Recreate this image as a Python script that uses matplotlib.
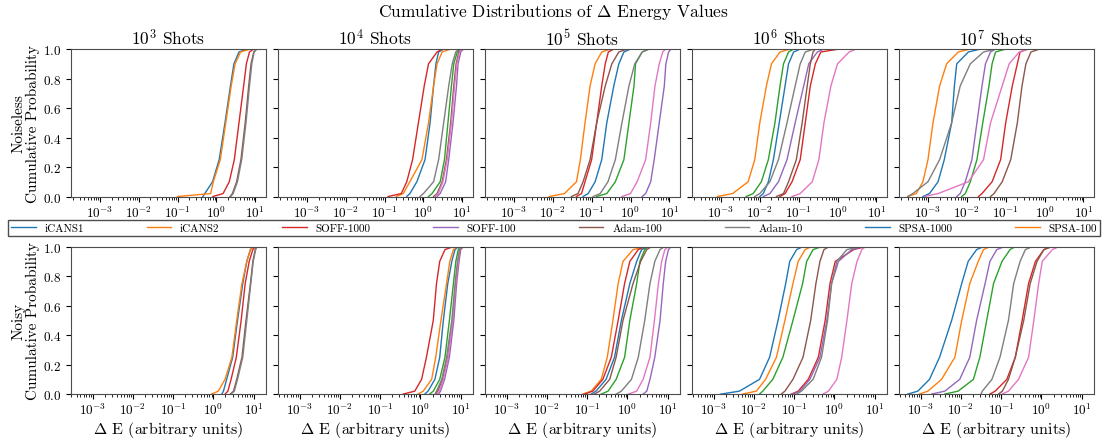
import numpy as np
import matplotlib
matplotlib.use('Agg')
import matplotlib.pyplot as plt
from matplotlib.lines import Line2D
from matplotlib.ticker import LogLocator, NullFormatter

# cumulative probability levels at which the delta-E quantiles were read
P = [0, 0.02, 0.1, 0.25, 0.5, 0.75, 0.9, 0.98, 1.0]

# log10(delta E) quantiles, one dict per panel
noiseless_1e3 = {
    'iCANS1': [-0.35, -0.3, -0.1, 0.07, 0.22, 0.36, 0.45, 0.58, 0.78],
    'iCANS2': [-1.0, -0.15, -0.08, 0.1, 0.24, 0.38, 0.48, 0.62, 0.87],
    'SOFF-1000': [-0.09, 0.17, 0.33, 0.46, 0.58, 0.70, 0.77, 0.85, 0.96],
    'Adam-100': [0.35, 0.41, 0.52, 0.63, 0.74, 0.83, 0.89, 0.96, 1.03],
    'Adam-10': [0.37, 0.43, 0.54, 0.65, 0.76, 0.85, 0.91, 0.97, 1.04],
}
noiseless_1e4 = {
    'iCANS1': [-0.43, -0.35, -0.17, 0.04, 0.17, 0.26, 0.32, 0.39, 0.52],
    'iCANS2': [-0.7, -0.52, -0.35, -0.04, 0.13, 0.26, 0.35, 0.48, 0.70],
    'SPSA-1000': [0.13, 0.22, 0.43, 0.54, 0.63, 0.72, 0.78, 0.87, 0.94],
    'SOFF-1000': [-0.91, -0.57, -0.43, -0.28, -0.13, 0.02, 0.13, 0.35, 0.48],
    'SOFF-100': [0.35, 0.43, 0.57, 0.65, 0.76, 0.85, 0.89, 0.96, 1.03],
    'Adam-100': [0.26, 0.35, 0.48, 0.59, 0.70, 0.78, 0.84, 0.91, 0.97],
    'SPSA-100': [0.30, 0.38, 0.50, 0.61, 0.72, 0.80, 0.86, 0.93, 1.0],
    'Adam-10': [-0.09, 0.0, 0.26, 0.39, 0.52, 0.65, 0.74, 0.83, 0.91],
}
noiseless_1e5 = {
    'iCANS1': [-1.22, -1.09, -0.91, -0.74, -0.61, -0.43, -0.30, -0.17, 0.0],
    'iCANS2': [-2.09, -1.70, -1.39, -1.29, -1.17, -1.04, -0.91, -0.74, -0.52],
    'SPSA-1000': [-0.87, -0.61, -0.39, -0.17, -0.04, 0.09, 0.13, 0.30, 0.48],
    'SOFF-1000': [-1.39, -1.26, -1.17, -1.0, -0.87, -0.74, -0.65, -0.57, -0.43],
    'SOFF-100': [0.30, 0.39, 0.52, 0.61, 0.74, 0.87, 0.91, 0.98, 1.04],
    'Adam-100': [-1.52, -1.35, -1.22, -1.04, -0.87, -0.65, -0.48, -0.30, -0.09],
    'SPSA-100': [-0.22, 0.0, 0.17, 0.39, 0.52, 0.63, 0.74, 0.83, 0.90],
    'Adam-10': [-0.96, -0.78, -0.58, -0.39, -0.22, -0.04, 0.11, 0.30, 0.48],
}
noiseless_1e6 = {
    'iCANS1': [-2.0, -1.91, -1.78, -1.65, -1.50, -1.35, -1.26, -1.13, -0.96],
    'iCANS2': [-3.09, -2.70, -2.30, -2.13, -2.0, -1.83, -1.70, -1.48, -1.22],
    'SPSA-1000': [-2.35, -2.17, -1.96, -1.78, -1.61, -1.48, -1.39, -1.26, -1.13],
    'SOFF-1000': [-1.48, -1.35, -1.17, -0.96, -0.83, -0.70, -0.57, -0.43, 0.04],
    'SOFF-100': [-1.91, -1.74, -1.52, -1.30, -1.09, -0.87, -0.74, -0.52, -0.35],
    'Adam-100': [-1.57, -1.39, -1.26, -1.06, -0.91, -0.78, -0.70, -0.63, -0.57],
    'SPSA-100': [-1.17, -0.96, -0.65, -0.48, -0.35, -0.17, 0.0, 0.30, 0.48],
    'Adam-10': [-2.13, -2.0, -1.74, -1.52, -1.30, -1.09, -0.96, -0.83, -0.61],
}
noiseless_1e7 = {
    'iCANS1': [-3.13, -2.96, -2.74, -2.58, -2.39, -2.32, -2.26, -1.96, -1.65],
    'iCANS2': [-3.52, -3.30, -3.13, -3.0, -2.87, -2.70, -2.52, -2.22, -1.91],
    'SPSA-1000': [-2.13, -2.04, -1.91, -1.74, -1.59, -1.43, -1.35, -1.26, -1.0],
    'SOFF-1000': [-1.70, -1.61, -1.35, -1.13, -1.0, -0.83, -0.70, -0.63, -0.43],
    'SOFF-100': [-2.26, -2.17, -2.04, -1.87, -1.74, -1.61, -1.52, -1.39, -1.26],
    'Adam-100': [-1.39, -1.30, -1.09, -0.87, -0.70, -0.58, -0.48, -0.35, -0.13],
    'SPSA-100': [-3.09, -2.74, -1.96, -1.57, -1.39, -1.09, -0.91, -0.65, -0.43],
    'Adam-10': [-3.52, -3.39, -3.0, -2.70, -2.39, -2.17, -1.91, -1.57, -1.26],
}
noisy_1e3 = {
    'iCANS1': [0.21, 0.25, 0.33, 0.48, 0.60, 0.73, 0.83, 0.92, 0.98],
    'iCANS2': [-0.04, 0.12, 0.29, 0.46, 0.58, 0.71, 0.83, 0.92, 1.0],
    'SOFF-1000': [0.29, 0.36, 0.44, 0.57, 0.69, 0.79, 0.89, 0.98, 1.04],
    'Adam-100': [0.42, 0.50, 0.58, 0.71, 0.81, 0.92, 0.98, 1.04, 1.08],
    'Adam-10': [0.44, 0.52, 0.60, 0.73, 0.83, 0.93, 0.99, 1.05, 1.08],
}
noisy_1e4 = {
    'iCANS1': [0.11, 0.19, 0.36, 0.48, 0.57, 0.68, 0.78, 0.86, 0.94],
    'iCANS2': [-0.06, 0.07, 0.28, 0.38, 0.51, 0.65, 0.73, 0.82, 0.90],
    'SPSA-1000': [0.23, 0.32, 0.48, 0.61, 0.72, 0.82, 0.88, 0.94, 1.0],
    'SOFF-1000': [-0.43, -0.14, 0.03, 0.15, 0.32, 0.40, 0.48, 0.61, 0.82],
    'SOFF-100': [0.45, 0.50, 0.60, 0.72, 0.83, 0.90, 0.96, 1.0, 1.07],
    'Adam-100': [0.38, 0.43, 0.55, 0.68, 0.80, 0.88, 0.94, 0.99, 1.05],
    'SPSA-100': [0.42, 0.47, 0.57, 0.69, 0.80, 0.88, 0.94, 0.98, 1.04],
    'Adam-10': [0.36, 0.40, 0.53, 0.65, 0.78, 0.86, 0.92, 0.97, 1.03],
}
noisy_1e5 = {
    'iCANS1': [-0.90, -0.78, -0.53, -0.32, -0.15, 0.06, 0.23, 0.35, 0.52],
    'iCANS2': [-1.11, -0.90, -0.65, -0.50, -0.36, -0.23, -0.11, 0.14, 0.48],
    'SPSA-1000': [-0.65, -0.48, -0.28, -0.07, 0.06, 0.23, 0.31, 0.43, 0.52],
    'SOFF-1000': [-1.07, -0.86, -0.61, -0.40, -0.23, -0.07, 0.06, 0.27, 0.43],
    'SOFF-100': [0.39, 0.48, 0.56, 0.68, 0.81, 0.89, 0.95, 1.02, 1.08],
    'Adam-100': [-0.82, -0.69, -0.44, -0.28, -0.11, 0.14, 0.33, 0.48, 0.60],
    'SPSA-100': [0.02, 0.23, 0.39, 0.56, 0.67, 0.77, 0.85, 0.93, 1.02],
    'Adam-10': [-0.28, -0.15, 0.10, 0.27, 0.43, 0.56, 0.68, 0.81, 0.92],
}
noisy_1e6 = {
    'iCANS1': [-2.82, -2.36, -1.86, -1.61, -1.40, -1.21, -1.11, -0.94, -0.78],
    'iCANS2': [-2.28, -1.94, -1.71, -1.44, -1.23, -1.03, -0.90, -0.73, -0.57],
    'SPSA-1000': [-1.86, -1.78, -1.53, -1.28, -1.03, -0.79, -0.69, -0.53, -0.32],
    'SOFF-1000': [-1.07, -0.90, -0.65, -0.40, -0.23, -0.11, 0.02, 0.48, 0.77],
    'SOFF-100': [-1.03, -0.86, -0.61, -0.36, -0.19, -0.07, 0.10, 0.43, 0.73],
    'Adam-100': [-1.32, -1.23, -1.03, -0.78, -0.59, -0.46, -0.36, -0.26, -0.13],
    'SPSA-100': [-0.28, -0.15, 0.06, 0.18, 0.31, 0.43, 0.56, 0.68, 0.77],
    'Adam-10': [-0.94, -0.82, -0.53, -0.32, -0.17, -0.07, 0.06, 0.31, 0.64],
}
noisy_1e7 = {
    'iCANS1': [-3.32, -3.07, -2.78, -2.53, -2.23, -1.98, -1.82, -1.61, -1.44],
    'iCANS2': [-3.03, -2.82, -2.48, -2.15, -1.98, -1.78, -1.57, -1.44, -1.28],
    'SPSA-1000': [-2.40, -2.07, -1.69, -1.53, -1.36, -1.19, -0.98, -0.78, -0.65],
    'SOFF-1000': [-1.28, -1.15, -0.86, -0.65, -0.48, -0.32, -0.15, 0.06, 0.23],
    'SOFF-100': [-2.73, -2.40, -2.03, -1.78, -1.61, -1.40, -1.28, -1.11, -0.92],
    'Adam-100': [-1.07, -0.97, -0.82, -0.65, -0.44, -0.28, -0.11, 0.06, 0.27],
    'SPSA-100': [-0.98, -0.82, -0.57, -0.32, -0.19, -0.07, 0.02, 0.27, 0.43],
    'Adam-10': [-1.50, -1.47, -1.23, -1.03, -0.82, -0.69, -0.53, -0.40, -0.23],
}

shots = [3, 4, 5, 6, 7]
rowNames = ['Noiseless', 'Noisy']
panels = [
    [noiseless_1e3, noiseless_1e4, noiseless_1e5, noiseless_1e6, noiseless_1e7],
    [noisy_1e3, noisy_1e4, noisy_1e5, noisy_1e6, noisy_1e7],
]

# colours of the curves
lineColors = {'iCANS1': 'C0', 'iCANS2': 'C1', 'SPSA-1000': 'C2', 'SOFF-1000': 'C3',
              'SOFF-100': 'C4', 'Adam-100': 'C5', 'SPSA-100': 'C6', 'Adam-10': 'C7'}
# legend entries as they appear in the figure
legendLabels = ['iCANS1', 'iCANS2', 'SOFF-1000', 'SOFF-100', 'Adam-100', 'Adam-10', 'SPSA-1000', 'SPSA-100']
legendColors = ['C0', 'C1', 'C3', 'C4', 'C5', 'C7', 'C0', 'C1']

plt.rcParams['font.family'] = 'serif'
plt.rcParams['font.serif'] = ['cmr10']
plt.rcParams['mathtext.fontset'] = 'cm'
plt.rcParams['axes.formatter.use_mathtext'] = True
plt.rcParams['axes.unicode_minus'] = False
plt.rcParams['axes.edgecolor'] = '0.3'

fig, axes = plt.subplots(2, 5, figsize=(11.06, 4.39), dpi=100, sharex='row', sharey=True)
fig.subplots_adjust(left=0.064, right=0.989, top=0.886, bottom=0.100, wspace=0.062, hspace=0.34)

for r in range(2):
    for c in range(5):
        ax = axes[r, c]
        for name, q in panels[r][c].items():
            ax.plot(10 ** np.array(q), P, color=lineColors[name], lw=1.0)
        ax.set_xscale('log')
        ax.xaxis.set_major_locator(LogLocator(base=10, numticks=15))
        ax.xaxis.set_minor_locator(LogLocator(base=10, subs=np.arange(2, 10), numticks=15))
        ax.xaxis.set_minor_formatter(NullFormatter())
        ax.set_ylim(0, 1)
        ax.set_yticks([0, 0.2, 0.4, 0.6, 0.8, 1.0])
        ax.tick_params(labelsize=9.5)
        ax.tick_params(axis='x', pad=2)
        if r == 0:
            ax.set_title(r'$10^{%d}$ Shots' % shots[c], fontsize=12.5, pad=3)
        else:
            ax.set_xlabel(r'$\Delta$ E (arbitrary units)', fontsize=11.5, labelpad=1)
    axes[r, 0].set_ylabel(rowNames[r] + '\nCumulative Probability', fontsize=11, linespacing=1.0, labelpad=2)

handles = [Line2D([], [], color=col, lw=1.0) for col in legendColors]
fig.legend(handles, legendLabels, loc='lower left', bbox_to_anchor=(0.007, 0.459, 0.988, 0.045),
           mode='expand', ncol=8, fontsize=8, fancybox=False, edgecolor='0.3', framealpha=1,
           borderaxespad=0, handlelength=2.2, borderpad=0.3)

fig.suptitle(r'Cumulative Distributions of $\Delta$ Energy Values', fontsize=12.5, y=0.995)

fig.savefig('out.png', dpi=100)
